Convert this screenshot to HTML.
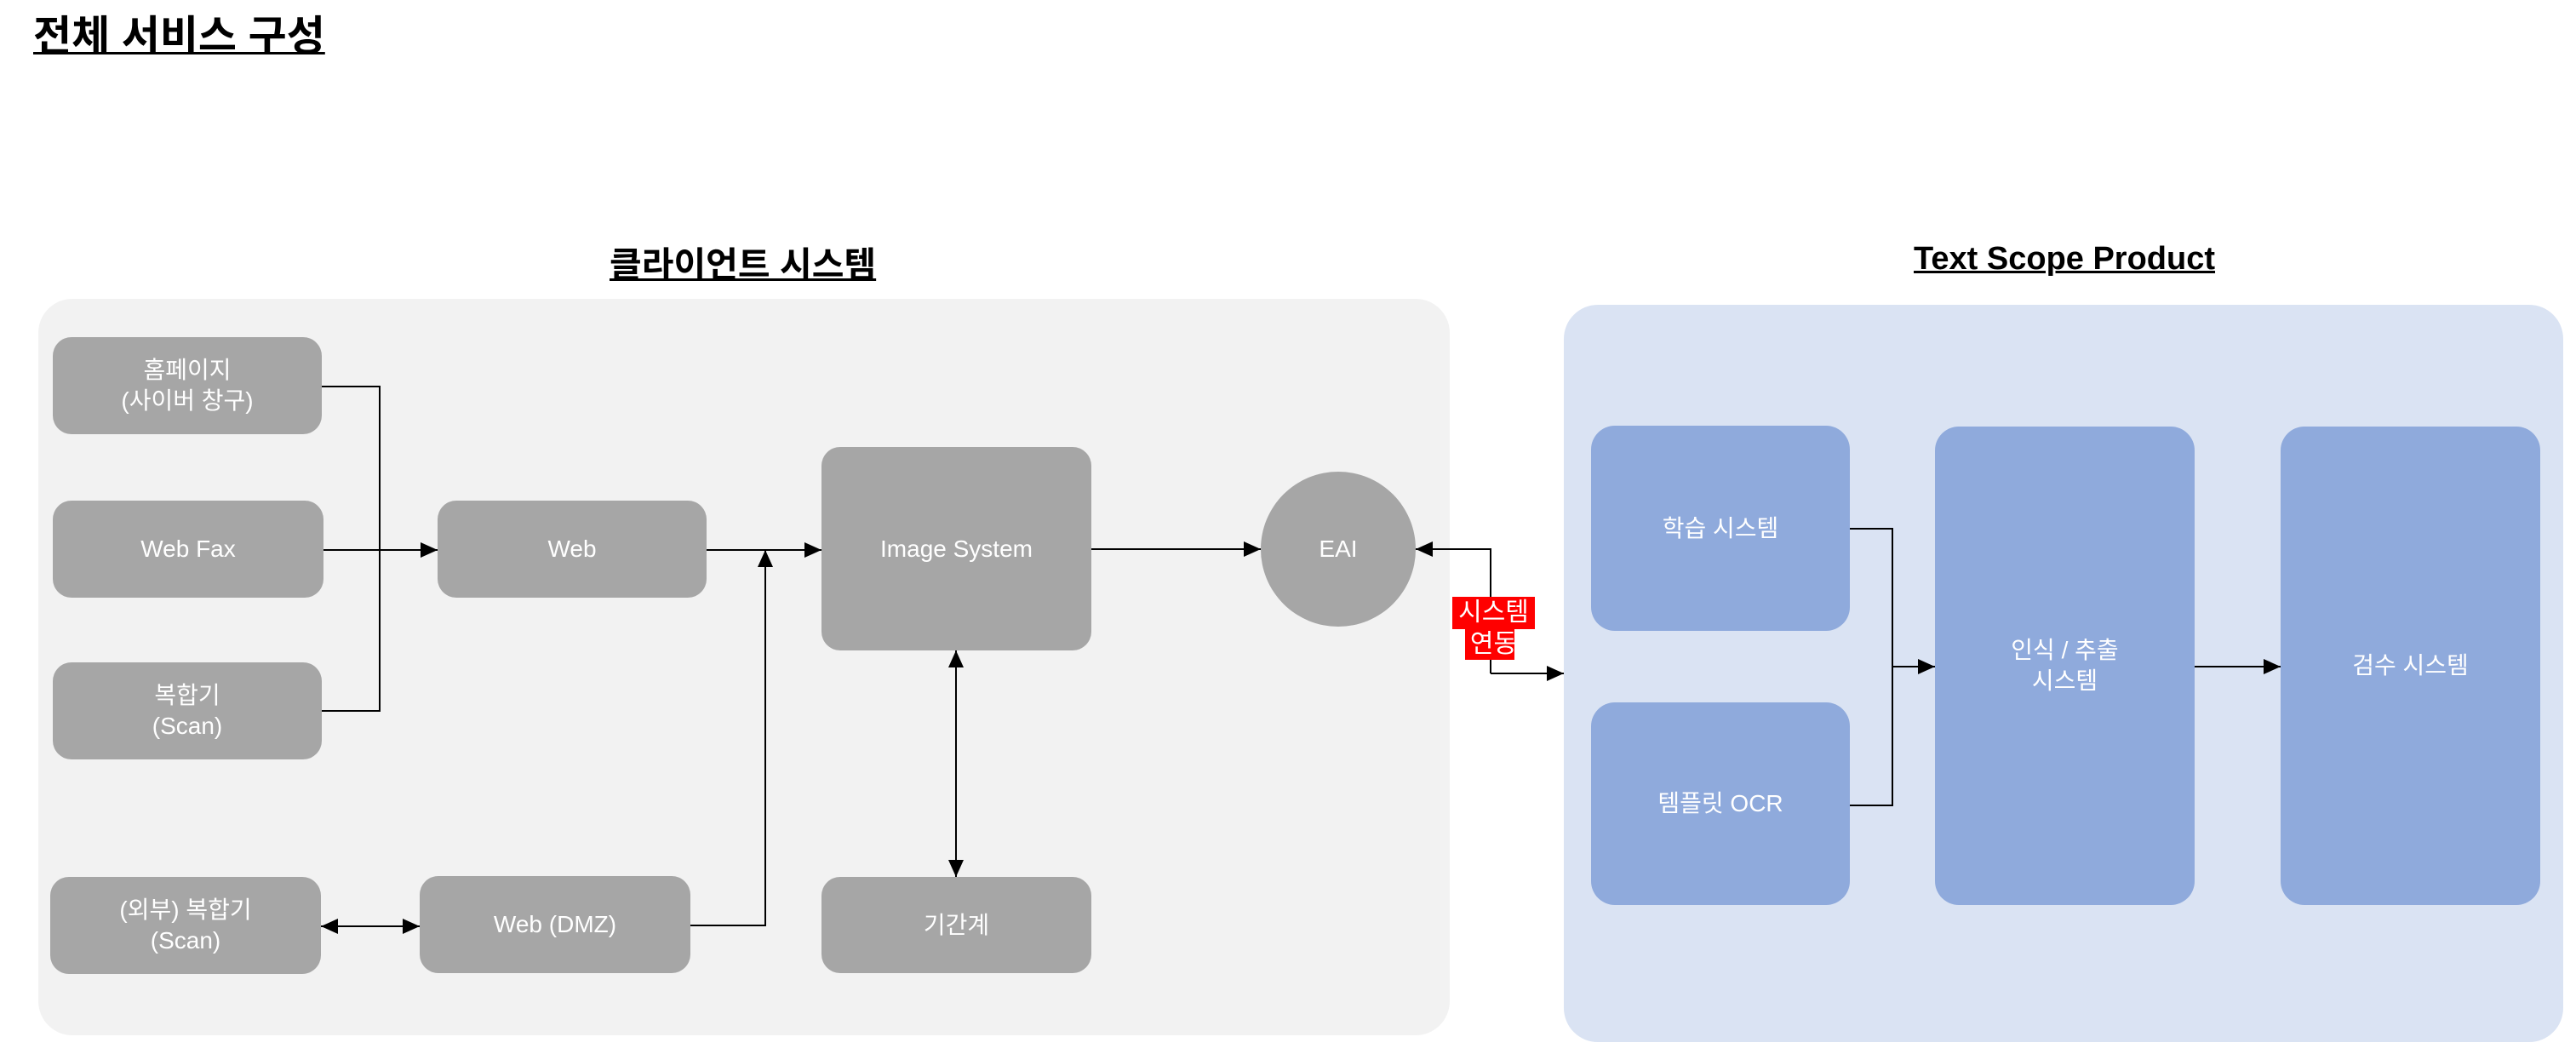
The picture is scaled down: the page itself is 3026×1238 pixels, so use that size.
<!DOCTYPE html>
<html><head><meta charset="utf-8">
<style>
body{margin:0;width:3026px;height:1238px;background:#fff;position:relative;overflow:hidden;font-family:"Liberation Sans","Noto Sans CJK KR",sans-serif;}
.a{position:absolute;}
.box{position:absolute;background:#a6a6a6;border-radius:22px;color:#fff;font-size:28px;line-height:36px;display:flex;align-items:center;justify-content:center;text-align:center;}
.bb{position:absolute;background:#8faadc;border-radius:28px;color:#fff;font-size:28px;line-height:36px;display:flex;align-items:center;justify-content:center;text-align:center;}
.t{position:absolute;font-weight:bold;text-decoration:underline;text-decoration-thickness:3px;color:#000;white-space:nowrap;}
</style></head><body>
<div class="t" style="left:39px;top:3px;font-size:49px;">전체 서비스 구성</div>
<div class="t" style="left:716px;top:277px;font-size:41px;">클라이언트 시스템</div>
<div class="t" style="left:2248px;top:283px;font-size:38px;">Text Scope Product</div>

<div class="a" style="left:45px;top:351px;width:1658px;height:865px;background:#f2f2f2;border-radius:40px;"></div>
<div class="a" style="left:1837px;top:358px;width:1174px;height:866px;background:#dae3f3;border-radius:40px;"></div>

<div class="box" style="left:62px;top:396px;width:316px;height:114px;">홈페이지<br>(사이버 창구)</div>
<div class="box" style="left:62px;top:588px;width:318px;height:114px;">Web Fax</div>
<div class="box" style="left:62px;top:778px;width:316px;height:114px;">복합기<br>(Scan)</div>
<div class="box" style="left:514px;top:588px;width:316px;height:114px;">Web</div>
<div class="box" style="left:59px;top:1030px;width:318px;height:114px;">(외부) 복합기<br>(Scan)</div>
<div class="box" style="left:493px;top:1029px;width:318px;height:114px;">Web (DMZ)</div>
<div class="box" style="left:965px;top:525px;width:317px;height:239px;">Image System</div>
<div class="box" style="left:965px;top:1030px;width:317px;height:113px;">기간계</div>
<div class="box" style="left:1481px;top:554px;width:182px;height:182px;border-radius:50%;">EAI</div>

<div class="bb" style="left:1869px;top:500px;width:304px;height:241px;">학습 시스템</div>
<div class="bb" style="left:1869px;top:825px;width:304px;height:238px;">템플릿 OCR</div>
<div class="bb" style="left:2273px;top:501px;width:305px;height:562px;">인식 / 추출<br>시스템</div>
<div class="bb" style="left:2679px;top:501px;width:305px;height:562px;">검수 시스템</div>

<svg class="a" style="left:0;top:0" width="3026" height="1238">
<defs>
<marker id="ar" markerWidth="20" markerHeight="18" refX="20" refY="9" orient="auto-start-reverse" markerUnits="userSpaceOnUse" viewBox="0 0 20 18"><path d="M0,0 L20,9 L0,18z" fill="#000"/></marker>
</defs>
<g stroke="#000" stroke-width="2" fill="none">
<path d="M378,454 H446 V835 H378"/>
<path d="M380,646 H446"/>
<path d="M446,646 H514" marker-end="url(#ar)"/>
<path d="M830,646 H965" marker-end="url(#ar)"/>
<path d="M811,1087 H899 V646" marker-end="url(#ar)"/>
<path d="M377,1088 H493" marker-start="url(#ar)" marker-end="url(#ar)"/>
<path d="M1282,645 H1481" marker-end="url(#ar)"/>
<path d="M1123,764 V1030" marker-start="url(#ar)" marker-end="url(#ar)"/>
<path d="M1751,791 V645 H1663" marker-end="url(#ar)"/>
<path d="M1751,791 H1837" marker-end="url(#ar)"/>
<path d="M2173,621 H2223 V946 H2173"/>
<path d="M2223,783 H2273" marker-end="url(#ar)"/>
<path d="M2578,783 H2679" marker-end="url(#ar)"/>
</g>
</svg>
<div class="a" style="left:1706px;top:701px;width:97px;height:38px;background:#ff0000;"></div>
<div class="a" style="left:1721px;top:739px;width:58px;height:36px;background:#ff0000;"></div>
<div class="a" style="left:1706px;top:701px;width:97px;color:#fff;font-size:30px;line-height:37px;text-align:center;">시스템<br>연동</div>
</body></html>
